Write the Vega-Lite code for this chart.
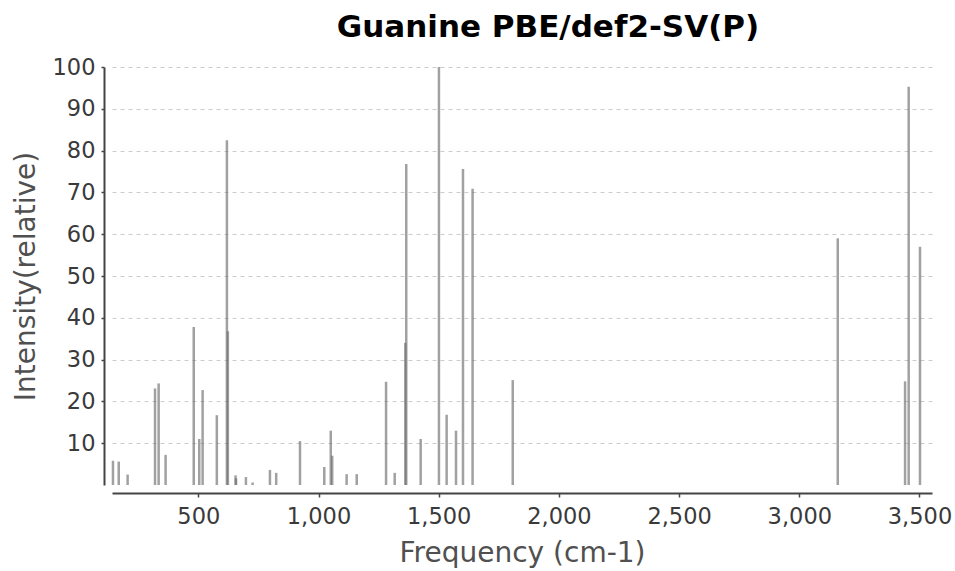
{
  "$schema": "https://vega.github.io/schema/vega-lite/v6.json",
  "width": 820,
  "height": 418,
  "autosize": "none",
  "padding": {"left": 112, "top": 67, "right": 23, "bottom": 86},
  "background": "white",
  "title": {
    "text": "Guanine PBE/def2-SV(P)",
    "font": "DejaVu Sans",
    "fontSize": 31,
    "fontWeight": "bold",
    "color": "#000000",
    "anchor": "middle",
    "dx": 26,
    "offset": 12
  },
  "config": {
    "view": {"stroke": null},
    "axis": {
      "labelFont": "DejaVu Sans",
      "titleFont": "DejaVu Sans",
      "labelColor": "#3a3a3a",
      "titleColor": "#505050",
      "labelFontSize": 22.5,
      "titleFontSize": 28,
      "titleFontWeight": "normal",
      "domainColor": "#444444",
      "domainWidth": 2,
      "tickColor": "#444444",
      "tickWidth": 1.5
    }
  },
  "data": {
    "values": [
      {"freq": 145, "intensity": 5.8},
      {"freq": 169, "intensity": 5.6},
      {"freq": 206, "intensity": 2.5},
      {"freq": 320, "intensity": 23.1},
      {"freq": 335, "intensity": 24.3},
      {"freq": 364, "intensity": 7.2},
      {"freq": 481, "intensity": 37.8},
      {"freq": 504, "intensity": 11.0},
      {"freq": 518, "intensity": 22.7},
      {"freq": 577, "intensity": 16.7},
      {"freq": 619, "intensity": 82.5},
      {"freq": 623, "intensity": 36.8},
      {"freq": 655, "intensity": 2.3},
      {"freq": 657, "intensity": 1.6},
      {"freq": 698, "intensity": 1.9},
      {"freq": 726, "intensity": 0.6},
      {"freq": 798, "intensity": 3.6},
      {"freq": 824, "intensity": 2.9},
      {"freq": 923, "intensity": 10.5},
      {"freq": 1024, "intensity": 4.3},
      {"freq": 1051, "intensity": 13.0},
      {"freq": 1057, "intensity": 7.0},
      {"freq": 1117, "intensity": 2.6},
      {"freq": 1159, "intensity": 2.6},
      {"freq": 1281, "intensity": 24.7},
      {"freq": 1317, "intensity": 2.9},
      {"freq": 1361, "intensity": 34.0},
      {"freq": 1365, "intensity": 76.8},
      {"freq": 1425, "intensity": 11.0},
      {"freq": 1501, "intensity": 100},
      {"freq": 1533, "intensity": 16.8},
      {"freq": 1572, "intensity": 13.0},
      {"freq": 1601, "intensity": 75.6},
      {"freq": 1641, "intensity": 70.9},
      {"freq": 1808, "intensity": 25.1},
      {"freq": 3160, "intensity": 59.0},
      {"freq": 3440, "intensity": 24.8},
      {"freq": 3455, "intensity": 95.3},
      {"freq": 3502, "intensity": 57.0}
    ]
  },
  "mark": {"type": "rule", "color": "#6e6e6e", "opacity": 0.65, "strokeWidth": 2.5},
  "encoding": {
    "x": {
      "field": "freq",
      "type": "quantitative",
      "scale": {"domain": [141, 3552], "nice": false, "zero": false},
      "axis": {
        "title": "Frequency (cm-1)",
        "values": [500, 1000, 1500, 2000, 2500, 3000, 3500],
        "format": ",d",
        "grid": false,
        "offset": 8,
        "tickSize": 4,
        "labelPadding": 8,
        "titlePadding": 12
      }
    },
    "y": {
      "field": "intensity",
      "type": "quantitative",
      "scale": {"domain": [0, 100], "nice": false},
      "axis": {
        "title": "Intensity(relative)",
        "values": [10, 20, 30, 40, 50, 60, 70, 80, 90, 100],
        "grid": true,
        "gridColor": "#cccccc",
        "gridDash": [4, 4],
        "gridWidth": 1,
        "offset": 8,
        "tickSize": 3,
        "labelPadding": 6,
        "titlePadding": 12
      }
    },
    "y2": {"datum": 0}
  }
}
